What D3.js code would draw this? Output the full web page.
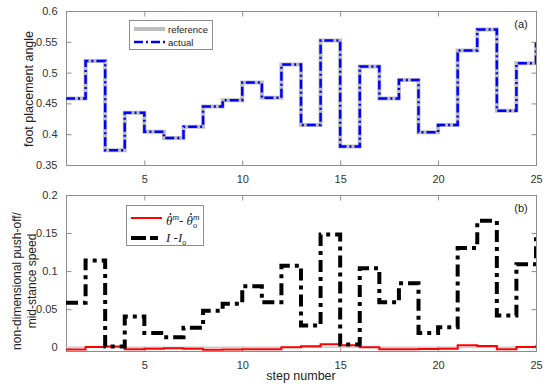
<!DOCTYPE html>
<html>
<head>
<meta charset="utf-8">
<script src="https://cdn.jsdelivr.net/npm/d3@7"></script>
<style>
  body { margin: 0; background: #fff; }
  svg { display: block; font-family: "Liberation Sans", Arial, sans-serif; }
</style>
</head>
<body>
<div id="chart"></div>
<script>
// step numbers 1..25
const steps = d3.range(1, 26);

// panel (a): foot placement angle
const footReference = [0.458, 0.519, 0.374, 0.435, 0.404, 0.394, 0.412, 0.445, 0.455, 0.484,
  0.459, 0.513, 0.415, 0.552, 0.380, 0.510, 0.458, 0.488, 0.403, 0.415,
  0.536, 0.570, 0.438, 0.515, 0.549];
const footActual = [0.458, 0.519, 0.374, 0.435, 0.404, 0.394, 0.412, 0.445, 0.455, 0.484,
  0.459, 0.513, 0.415, 0.552, 0.380, 0.510, 0.458, 0.488, 0.403, 0.415,
  0.536, 0.570, 0.438, 0.515, 0.549];

// panel (b): push-off / mid-stance speed
const speedReference = [0, 0, 0, 0, 0, 0, 0, 0, 0, 0, 0, 0, 0, 0, 0, 0, 0, 0, 0, 0, 0, 0, 0, 0, 0];
const thetaDiff = [-0.003, 0.0004, 0.001, -0.0027, -0.002, -0.0013, -0.0022, -0.0035, -0.003, -0.0027,
  -0.0027, 0, 0.0013, 0.004, 0.0026, 0, -0.0027, -0.0027, -0.0025, -0.002,
  0.0026, 0.0017, -0.0027, 0.0004, 0.0026];
const impulseDiff = [0.0584, 0.114, 0.001, 0.0403, 0.0185, 0.0132, 0.0254, 0.048, 0.057, 0.080,
  0.059, 0.107, 0.0285, 0.148, 0.0035, 0.1036, 0.059, 0.084, 0.0185, 0.0263,
  0.1305, 0.166, 0.0416, 0.109, 0.145];

const xTicks = [5, 10, 15, 20, 25];
const yTicksA = [0.35, 0.4, 0.45, 0.5, 0.55, 0.6];
const yTicksB = [0, 0.05, 0.1, 0.15, 0.2];

const W = 550, H = 387;
const axisColor = "#8c8c8c", textColor = "#333";

const svg = d3.select("#chart").append("svg")
  .attr("width", W)
  .attr("height", H);

const x = d3.scaleLinear().domain([1, 25]).range([66, 536]);

function drawPanel(opts) {
  let y = d3.scaleLinear().domain(opts.domain).range([opts.bottom, opts.top]);
  let g = svg.append("g");
  let clipId = "clip" + opts.name;
  svg.append("clipPath").attr("id", clipId)
    .append("rect")
    .attr("x", x.range()[0]).attr("y", opts.top)
    .attr("width", x.range()[1] - x.range()[0])
    .attr("height", opts.bottom - opts.top);

  // box
  g.append("rect")
    .attr("x", x.range()[0] + 0.5).attr("y", opts.top + 0.5)
    .attr("width", x.range()[1] - x.range()[0])
    .attr("height", opts.bottom - opts.top)
    .attr("fill", "none").attr("stroke", axisColor).attr("stroke-width", 1);

  // ticks inside, both sides
  let tl = 5;
  let bottomAx = d3.axisBottom(x).tickValues(xTicks).tickSize(-tl).tickPadding(tl + 5).tickFormat(d3.format("d"));
  let gx = g.append("g").attr("transform", "translate(0," + (opts.bottom + 0.5) + ")").call(bottomAx);
  let topAx = d3.axisTop(x).tickValues(xTicks).tickSize(-tl).tickFormat("");
  let gxt = g.append("g").attr("transform", "translate(0," + (opts.top + 0.5) + ")").call(topAx);
  let leftAx = d3.axisLeft(y).tickValues(opts.yTicks).tickSize(-tl).tickPadding(tl + 4).tickFormat(d => d3.format("")(+d.toFixed(2)));
  let gy = g.append("g").attr("transform", "translate(" + (x.range()[0] + 0.5) + ",0)").call(leftAx);
  let rightAx = d3.axisRight(y).tickValues(opts.yTicks).tickSize(-tl).tickFormat("");
  let gyr = g.append("g").attr("transform", "translate(" + (x.range()[1] + 0.5) + ",0)").call(rightAx);
  [gx, gxt, gy, gyr].forEach(a => {
    a.select(".domain").remove();
    a.selectAll(".tick line").attr("stroke", axisColor);
    a.selectAll(".tick text").attr("fill", textColor).style("font-size", "11px")
      .style("font-family", "'Liberation Sans', Arial, sans-serif");
  });

  let line = d3.line()
    .x((d, i) => x(steps[i]))
    .y(d => y(d))
    .curve(d3.curveStepAfter);

  let plot = g.append("g").attr("clip-path", "url(#" + clipId + ")");
  opts.series.forEach(s => {
    plot.append("path")
      .datum(s.values)
      .attr("d", line)
      .attr("fill", "none")
      .attr("stroke", s.color)
      .attr("stroke-width", s.width)
      .attr("stroke-dasharray", s.dash || null);
  });

  // panel label
  g.append("text")
    .attr("x", 521).attr("y", opts.top + 17)
    .attr("text-anchor", "middle")
    .attr("fill", "#222")
    .style("font-size", "11px")
    .text(opts.label);
  return { g: g, y: y };
}

drawPanel({
  name: "a", domain: [0.35, 0.6], top: 11, bottom: 165, yTicks: yTicksA, label: "(a)",
  series: [
    { values: footReference, color: "#bdbdbd", width: 4 },
    { values: footActual, color: "#0000ff", width: 2.5, dash: "9,3,2,3" }
  ]
});

drawPanel({
  name: "b", domain: [-0.005, 0.2], top: 195, bottom: 351, yTicks: yTicksB, label: "(b)",
  series: [
    { values: speedReference, color: "#cccccc", width: 1.5 },
    { values: thetaDiff, color: "#ff0000", width: 2 },
    { values: impulseDiff, color: "#000000", width: 4, dash: "12,5,4,5" }
  ]
});

// axis labels
svg.append("text")
  .attr("transform", "translate(33,89) rotate(-90)")
  .attr("text-anchor", "middle")
  .attr("fill", "#222")
  .style("font-size", "12.5px")
  .text("foot placement angle");

let ylb = svg.append("text")
  .attr("transform", "translate(21,281) rotate(-90)")
  .attr("text-anchor", "middle")
  .attr("fill", "#222")
  .style("font-size", "12px");
ylb.append("tspan").attr("x", 0).attr("dy", 0).text("non-dimensional push-off/");
ylb.append("tspan").attr("x", 0).attr("dy", 14.5).text("mid-stance speed");

svg.append("text")
  .attr("x", 301).attr("y", 380)
  .attr("text-anchor", "middle")
  .attr("fill", "#222")
  .style("font-size", "12.5px")
  .text("step number");

// legend (a)
let la = svg.append("g");
la.append("rect").attr("x", 129.5).attr("y", 20.5).attr("width", 83).attr("height", 29)
  .attr("fill", "#fff").attr("stroke", "#8c8c8c");
la.append("line").attr("x1", 134).attr("x2", 165).attr("y1", 29).attr("y2", 29)
  .attr("stroke", "#bdbdbd").attr("stroke-width", 4);
la.append("line").attr("x1", 134).attr("x2", 165).attr("y1", 42).attr("y2", 42)
  .attr("stroke", "#0000ff").attr("stroke-width", 2.5).attr("stroke-dasharray", "9,3,2,3");
la.append("text").attr("x", 168).attr("y", 33).style("font-size", "9.5px").attr("fill", "#222").text("reference");
la.append("text").attr("x", 168).attr("y", 46).style("font-size", "9.5px").attr("fill", "#222").text("actual");

// legend (b)
let lb = svg.append("g");
lb.append("rect").attr("x", 126.5).attr("y", 205.5).attr("width", 77).attr("height", 40)
  .attr("fill", "#fff").attr("stroke", "#8c8c8c");
lb.append("line").attr("x1", 131).attr("x2", 162).attr("y1", 218).attr("y2", 218)
  .attr("stroke", "#ff0000").attr("stroke-width", 2);
lb.append("line").attr("x1", 131).attr("x2", 162).attr("y1", 238).attr("y2", 238)
  .attr("stroke", "#000").attr("stroke-width", 4).attr("stroke-dasharray", "15,4,8,4");

let serif = "'Liberation Serif', 'DejaVu Serif', serif";
let t1 = lb.append("text").attr("x", 166).attr("y", 225)
  .style("font-family", serif).style("font-size", "13px").style("font-style", "italic").attr("fill", "#222");
let th1 = t1.append("tspan").text("\u03B8");
t1.append("tspan").attr("dy", -5).style("font-size", "9px").text("m");
t1.append("tspan").attr("dy", 5).style("font-style", "normal").text("- ");
let th2 = t1.append("tspan").text("\u03B8");
t1.append("tspan").attr("dy", 3).style("font-size", "8px").style("font-style", "normal").text("o");
t1.append("tspan").attr("dy", -8).attr("dx", -4).style("font-size", "9px").text("m");

// dots over theta (time derivative)
[th1, th2].forEach(t => {
  let b = t.node().getBBox();
  lb.append("circle")
    .attr("cx", b.x + b.width / 2 + 1)
    .attr("cy", b.y + 1)
    .attr("r", 0.9)
    .attr("fill", "#222");
});

let t2 = lb.append("text").attr("x", 166).attr("y", 242)
  .style("font-family", serif).style("font-size", "13px").style("font-style", "italic").attr("fill", "#222");
t2.append("tspan").text("I ");
t2.append("tspan").style("font-style", "normal").text("-");
t2.append("tspan").text("I");
t2.append("tspan").attr("dy", 3).style("font-size", "8px").style("font-style", "normal").text("o");
</script>
</body>
</html>
